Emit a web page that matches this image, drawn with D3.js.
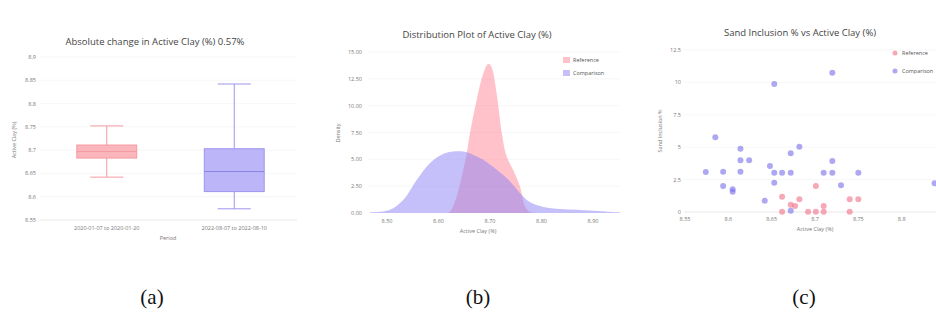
<!DOCTYPE html>
<html>
<head>
<meta charset="utf-8">
<script src="https://cdn.jsdelivr.net/npm/d3@7"></script>
<style>
  body { margin: 0; background: #fff; }
  text { font-family: 'Open Sans', sans-serif; }
  text.caption { font-family: 'Liberation Serif', 'Times New Roman', serif; }
</style>
</head>
<body>
<script>
// ---- data ----

// (a) box plot
let periods = ['2020-01-07 to 2020-01-20', '2022-08-07 to 2022-08-10']
// [lowerWhisker, q1, median, q3, upperWhisker]
let refBox = [8.642, 8.683, 8.697, 8.711, 8.752]
let cmpBox = [8.574, 8.611, 8.654, 8.703, 8.842]
let boxTicks = [8.55, 8.6, 8.65, 8.7, 8.75, 8.8, 8.85, 8.9]

// (b) density curves  [active clay, density]
let refDensity = [
  [8.615, 0], [8.622, 0.1], [8.635, 1.5], [8.648, 4.0], [8.655, 5.6], [8.661, 7.4],
  [8.674, 10.5], [8.687, 13.0], [8.697, 13.9], [8.703, 13.6], [8.713, 11.1],
  [8.723, 7.4], [8.732, 5.3], [8.745, 4.0], [8.758, 2.5], [8.768, 0.6], [8.778, 0.06], [8.785, 0]
]
let cmpDensity = [
  [8.467, 0.06], [8.506, 0.31], [8.532, 1.24], [8.558, 3.09], [8.583, 4.64],
  [8.609, 5.5], [8.629, 5.72], [8.648, 5.72], [8.668, 5.41], [8.687, 4.95],
  [8.713, 4.02], [8.739, 2.94], [8.758, 1.86], [8.778, 0.99], [8.804, 0.56],
  [8.836, 0.37], [8.868, 0.31], [8.901, 0.22], [8.952, 0.06]
]
let densityTicksX = [8.5, 8.6, 8.7, 8.8, 8.9]
let densityTicksY = [0, 2.5, 5, 7.5, 10, 12.5, 15]

// (c) scatter  [active clay, sand inclusion]
let refPts = [
  [8.662, 1.18], [8.662, 0.02], [8.672, 0.56], [8.677, 0.46], [8.682, 0.98],
  [8.692, 0.02], [8.701, 0.02], [8.71, 0.02], [8.71, 0.46], [8.74, 0.98],
  [8.75, 0.98], [8.74, 0.02], [8.701, 2.0]
]
let cmpPts = [
  [8.585, 5.76], [8.614, 4.88], [8.614, 3.99], [8.624, 3.99], [8.594, 3.11],
  [8.614, 3.11], [8.594, 2.01], [8.605, 1.75], [8.605, 1.57], [8.648, 3.55],
  [8.653, 3.03], [8.662, 3.03], [8.672, 3.03], [8.672, 4.53], [8.682, 5.04],
  [8.71, 3.03], [8.72, 3.03], [8.72, 3.94], [8.72, 10.75], [8.73, 2.06],
  [8.75, 3.03], [8.838, 2.21], [8.672, 0.1], [8.574, 3.09], [8.653, 9.88],
  [8.642, 0.87], [8.653, 2.26]
]
let scatterTicksX = [8.55, 8.6, 8.65, 8.7, 8.75, 8.8, 8.85]
let scatterTicksY = [0, 2.5, 5, 7.5, 10, 12.5]

let captions = ['(a)', '(b)', '(c)']

// ---- colours ----
let c = {
  refFill: '#fbb6bb', refLine: '#f59aa3',
  cmpFill: '#bcb6f8', cmpLine: '#9d95ee', cmpMed: '#8a82e4',
  title: '#444', tick: '#777', grid: '#f1f1f1', zero: '#e2e2e2'
}

let svg = d3.select('body')
  .append('svg')
  .attr('width', 936)
  .attr('height', 316)

svg.append('rect').attr('width', 936).attr('height', 316).attr('fill', '#fff')

function title(x, y, t) {
  svg.append('text').attr('x', x).attr('y', y)
    .attr('text-anchor', 'middle').attr('font-size', 9.5)
    .attr('fill', c.title).text(t)
}
function small(x, y, t, anchor, rot) {
  let s = svg.append('text').attr('font-size', 5.5).attr('fill', c.tick)
    .attr('text-anchor', anchor || 'middle').text(t)
  if (rot) s.attr('transform', 'translate(' + x + ',' + y + ') rotate(-90)')
  else s.attr('x', x).attr('y', y)
  return s
}

// ================= (a) box plot =================
let ay = d3.scaleLinear().domain([8.55, 8.9]).range([220, 57])
let ax = d3.scaleBand().domain(periods).range([43, 298])

boxTicks.forEach(function(t) {
  if (t > 8.55) svg.append('line').attr('x1', 40).attr('x2', 297)
    .attr('y1', ay(t)).attr('y2', ay(t)).attr('stroke', c.grid).attr('stroke-width', 0.6)
  small(36, ay(t) + 2, d3.format('')(t), 'end')
})
svg.append('line').attr('x1', 40).attr('x2', 297).attr('y1', ay(8.55)).attr('y2', ay(8.55))
  .attr('stroke', c.zero).attr('stroke-width', 0.8)

function drawBox(stats, cat, fill, line, med) {
  let cx = ax(cat) + ax.bandwidth() / 2
  let bw = ax.bandwidth() * 0.47
  let cw = ax.bandwidth() * 0.26
  let g = svg.append('g').attr('stroke', line).attr('stroke-width', 1)
  g.append('line').attr('x1', cx).attr('x2', cx).attr('y1', ay(stats[0])).attr('y2', ay(stats[1]))
  g.append('line').attr('x1', cx).attr('x2', cx).attr('y1', ay(stats[3])).attr('y2', ay(stats[4]))
  g.append('line').attr('x1', cx - cw / 2).attr('x2', cx + cw / 2).attr('y1', ay(stats[0])).attr('y2', ay(stats[0]))
  g.append('line').attr('x1', cx - cw / 2).attr('x2', cx + cw / 2).attr('y1', ay(stats[4])).attr('y2', ay(stats[4]))
  g.append('rect').attr('x', cx - bw / 2).attr('width', bw)
    .attr('y', ay(stats[3])).attr('height', ay(stats[1]) - ay(stats[3]))
    .attr('fill', fill)
  g.append('line').attr('x1', cx - bw / 2).attr('x2', cx + bw / 2)
    .attr('y1', ay(stats[2])).attr('y2', ay(stats[2])).attr('stroke', med)
}
drawBox(refBox, periods[0], c.refFill, c.refLine, c.refLine)
drawBox(cmpBox, periods[1], c.cmpFill, c.cmpLine, c.cmpMed)

periods.forEach(function(p) { small(ax(p) + ax.bandwidth() / 2, 230, p) })
small(168, 240, 'Period')
small(16, 140, 'Active Clay (%)', 'middle', true)
title(155, 45, 'Absolute change in Active Clay (%) 0.57%')

// ================= (b) density =================
let bx = d3.scaleLinear().domain([8.5, 8.9]).range([387, 593])
let by = d3.scaleLinear().domain([0, 15]).range([213, 52])

densityTicksY.forEach(function(t) {
  if (t > 0) svg.append('line').attr('x1', 368).attr('x2', 620)
    .attr('y1', by(t)).attr('y2', by(t)).attr('stroke', c.grid).attr('stroke-width', 0.6)
  small(362, by(t) + 2, d3.format('.2f')(t), 'end')
})
densityTicksX.forEach(function(t) { small(bx(t), 223, d3.format('.2f')(t)) })

let area = d3.area()
  .x(function(d) { return bx(d[0]) })
  .y0(by(0))
  .y1(function(d) { return by(d[1]) })
  .curve(d3.curveCatmullRom)

svg.append('path').datum(refDensity).attr('d', area)
  .attr('fill', 'rgb(255,120,140)').attr('fill-opacity', 0.45)
svg.append('path').datum(cmpDensity).attr('d', area)
  .attr('fill', 'rgb(140,128,245)').attr('fill-opacity', 0.5)

svg.append('rect').attr('x', 563).attr('y', 57).attr('width', 7).attr('height', 6)
  .attr('fill', 'rgb(255,120,140)').attr('fill-opacity', 0.45)
svg.append('rect').attr('x', 563).attr('y', 70).attr('width', 7).attr('height', 6)
  .attr('fill', 'rgb(140,128,245)').attr('fill-opacity', 0.5)
small(573, 62, 'Reference', 'start').attr('fill', '#555')
small(573, 75, 'Comparison', 'start').attr('fill', '#555')

small(478, 233, 'Active Clay (%)')
small(340, 133, 'Density', 'middle', true)
title(477, 38, 'Distribution Plot of Active Clay (%)')

// ================= (c) scatter =================
let cx = d3.scaleLinear().domain([8.55, 8.85]).range([685, 945])
let cy = d3.scaleLinear().domain([0, 12.5]).range([212, 50])

scatterTicksY.forEach(function(t) {
  if (t > 0) svg.append('line').attr('x1', 684).attr('x2', 936)
    .attr('y1', cy(t)).attr('y2', cy(t)).attr('stroke', c.grid).attr('stroke-width', 0.6)
  small(681, cy(t) + 2, d3.format('')(t), 'end')
})
svg.append('line').attr('x1', 684).attr('x2', 936).attr('y1', cy(0)).attr('y2', cy(0))
  .attr('stroke', c.zero).attr('stroke-width', 0.8)
scatterTicksX.forEach(function(t) { small(cx(t), 221, d3.format('')(t)) })

svg.append('g').selectAll('circle').data(refPts).enter().append('circle')
  .attr('cx', function(d) { return cx(d[0]) })
  .attr('cy', function(d) { return cy(d[1]) })
  .attr('r', 3).attr('fill', 'rgb(240,110,135)').attr('fill-opacity', 0.6)
svg.append('g').selectAll('circle').data(cmpPts).enter().append('circle')
  .attr('cx', function(d) { return cx(d[0]) })
  .attr('cy', function(d) { return cy(d[1]) })
  .attr('r', 3).attr('fill', 'rgb(120,110,235)').attr('fill-opacity', 0.6)

svg.append('circle').attr('cx', 895).attr('cy', 53).attr('r', 2.5)
  .attr('fill', 'rgb(240,110,135)').attr('fill-opacity', 0.6)
svg.append('circle').attr('cx', 895).attr('cy', 71).attr('r', 2.5)
  .attr('fill', 'rgb(120,110,235)').attr('fill-opacity', 0.6)
small(902, 55, 'Reference', 'start').attr('fill', '#555')
small(902, 73, 'Comparison', 'start').attr('fill', '#555')

small(815, 231, 'Active Clay (%)')
small(662, 131, 'Sand Inclusion %', 'middle', true)
title(800, 36, 'Sand Inclusion % vs Active Clay (%)')

// ================= captions =================
let capX = [152, 478, 804]
captions.forEach(function(t, i) {
  svg.append('text').attr('class', 'caption')
    .attr('x', capX[i]).attr('y', 304)
    .attr('text-anchor', 'middle').attr('font-size', 21)
    .attr('fill', '#111').text(t)
})
</script>
</body>
</html>
